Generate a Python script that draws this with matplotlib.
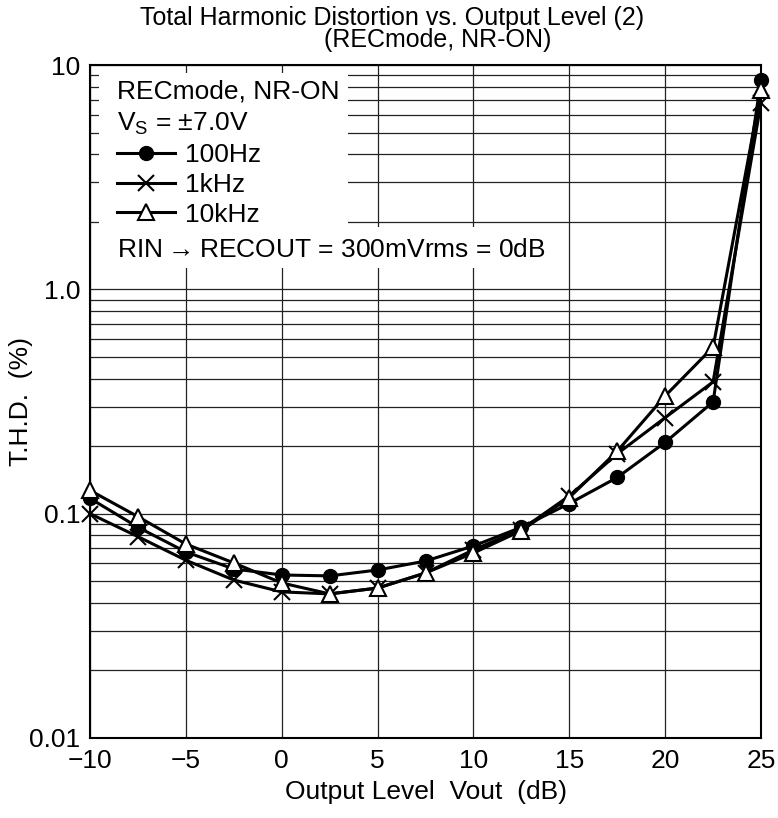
import numpy as np
import matplotlib
matplotlib.use('Agg')
import matplotlib.pyplot as plt
from matplotlib.patches import Rectangle
from matplotlib.lines import Line2D
from matplotlib import rcParams

rcParams['font.family'] = ['Liberation Sans', 'DejaVu Sans']
rcParams['mathtext.fontset'] = 'custom'
rcParams['mathtext.rm'] = 'Liberation Sans'

# output level (dB)
level = [-10, -7.5, -5, -2.5, 0, 2.5, 5, 7.5, 10, 12.5, 15, 17.5, 20, 22.5, 25]
# THD (%)
thd_100hz = [0.117, 0.087, 0.0675, 0.0567, 0.0533, 0.0528, 0.0561, 0.0615, 0.0718,
             0.087, 0.111, 0.145, 0.208, 0.315, 8.6]
thd_1khz = [0.100, 0.079, 0.062, 0.0506, 0.0448, 0.0439, 0.0466, 0.0544, 0.069,
            0.085, 0.120, 0.185, 0.268, 0.387, 6.8]
thd_10khz = [0.127, 0.097, 0.0732, 0.0603, 0.0491, 0.0439, 0.0466, 0.0544, 0.0668,
             0.084, 0.118, 0.190, 0.335, 0.553, 7.7]

xticks = [-10, -5, 0, 5, 10, 15, 20, 25]
xticklabels = ['\u221210', '\u22125', '0', '5', '10', '15', '20', '25']
yticks = [0.01, 0.1, 1.0, 10]
yticklabels = ['0.01', '0.1', '1.0', '10']

fs = 19
fig = plt.figure(figsize=(7.78, 8.18), dpi=100)
ax = fig.add_axes([0.1157, 0.0978, 0.8625, 0.8227])
ax.set_yscale('log')
ax.set_xlim(-10, 25)
ax.set_ylim(0.01, 10)

# grid
minor = [m * d for d in (0.01, 0.1, 1.0) for m in range(2, 10)]
ax.set_axisbelow(True)
ax.set_yticks(yticks)
ax.set_yticklabels(yticklabels)
ax.set_yticks(minor, minor=True)
ax.set_yticklabels([], minor=True)
ax.set_xticks(xticks)
ax.set_xticklabels(xticklabels)
ax.grid(True, which='both', axis='y', color='#222222', lw=0.9)
ax.grid(True, which='major', axis='x', color='#222222', lw=0.9)
ax.tick_params(which='both', length=0, labelsize=fs)
ax.tick_params(axis='x', pad=8)
ax.tick_params(axis='y', pad=7)
for s in ax.spines.values():
    s.set_linewidth(1.5)

# white area behind the notes
ax.add_patch(Rectangle((-9.53, 1.246), 12.97, 9.22 - 1.246, facecolor='white',
                       edgecolor='none', zorder=1))
ax.add_patch(Rectangle((-9.53, 1.246), 23.4, 1.90 - 1.246, facecolor='white',
                       edgecolor='none', zorder=1))

ax.plot(level, thd_100hz, '-o', color='black', lw=2.2, ms=10, zorder=4, clip_on=False)
ax.plot(level, thd_1khz, '-x', color='black', lw=2.2, ms=11, mew=1.5, zorder=3,
        clip_on=False)
ax.plot(level, thd_10khz, '-^', color='black', lw=2.2, ms=11, mew=1.5,
        mfc='white', zorder=5, clip_on=False)

handles = [
    Line2D([], [], color='black', lw=2.2, marker='o', ms=10),
    Line2D([], [], color='black', lw=2.2, marker='x', ms=11, mew=1.5),
    Line2D([], [], color='black', lw=2.2, marker='^', ms=11, mew=1.5, mfc='white'),
]
ax.legend(handles, ['100Hz', '1kHz', '10kHz'], loc='upper left',
          bbox_to_anchor=(0.040, 0.884), frameon=False, fontsize=fs,
          handlelength=2.2, handletextpad=0.4, labelspacing=0.22,
          borderpad=0, borderaxespad=0)

ax.text(0.040, 0.960, 'RECmode, NR-ON', transform=ax.transAxes, fontsize=fs,
        va='center', ha='left', zorder=6)
ax.text(0.040, 0.913, 'V$_\\mathregular{S}$ = \u00b17.0V', transform=ax.transAxes,
        fontsize=fs, va='center', ha='left', zorder=6)
ax.text(0.040, 0.725, 'RIN$\\rightarrow$RECOUT = 300mVrms = 0dB',
        transform=ax.transAxes, fontsize=fs, va='center', ha='left', zorder=6)

fig.text(0.504, 0.978, 'Total Harmonic Distortion vs. Output Level (2)',
         ha='center', va='center', fontsize=18)
fig.text(0.562, 0.951, '(RECmode, NR-ON)', ha='center', va='center', fontsize=18)

ax.set_xlabel('Output Level  Vout  (dB)', fontsize=fs, labelpad=5)
ax.set_ylabel('T.H.D.  (%)', fontsize=fs)
ax.yaxis.set_label_coords(-0.085, 0.5)

fig.savefig('out.png', dpi=100)
